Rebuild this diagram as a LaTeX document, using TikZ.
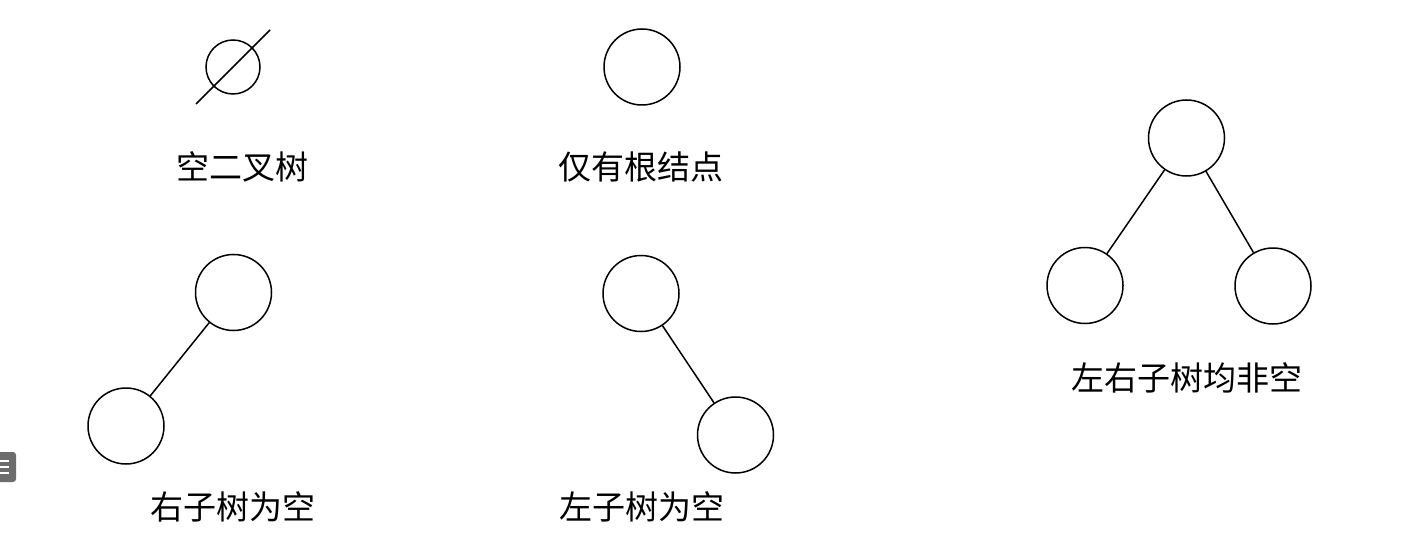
\documentclass[tikz,border=0pt]{standalone}
\usepackage{fontspec}
\newfontfamily\cjk{Noto Sans CJK SC}
\begin{document}
\begin{tikzpicture}[x=1pt,y=-1pt,
  tnode/.style={circle,draw,line width=1.5pt,minimum size=76pt,inner sep=0pt},
  enode/.style={circle,draw,line width=1.5pt,minimum size=54pt,inner sep=0pt},
  edge/.style={line width=1.5pt},
  lbl/.style={font=\cjk\fontsize{33}{36}\selectfont,inner sep=0pt,anchor=center}]
\useasboundingbox (0,0) rectangle (1402,540);
\fill[white] (0,0) rectangle (1402,540);
% empty tree
\node[enode] (e) at (233,67) {};
\coordinate (e1) at (196,104);
\coordinate (e2) at (270,30);
\draw[edge] (e1) -- (e2);
\node[lbl] (l1) at (242,167) {空二叉树};
% only root
\node[tnode] (r) at (642,67) {};
\node[lbl] (l2) at (641,167) {仅有根结点};
% right subtree empty
\node[tnode] (a) at (233.5,292.5) {};
\node[tnode] (b) at (126,426) {};
\draw[edge] (a) -- (b);
\node[lbl] (l3) at (233,507) {右子树为空};
% left subtree empty
\node[tnode] (c) at (641,293.5) {};
\node[tnode] (d) at (735.5,435) {};
\draw[edge] (c) -- (d);
\node[lbl] (l4) at (641.5,507) {左子树为空};
% full
\node[tnode] (f) at (1186.5,138) {};
\node[tnode] (g) at (1085,285.5) {};
\node[tnode] (h) at (1273,286) {};
\draw[edge] (f) -- (g);
\draw[edge] (f) -- (h);
\node[lbl] (l5) at (1187,378) {左右子树均非空};
% side icon
\node[draw=none,fill=gray!85!black,rounded corners=3pt,minimum width=24pt,minimum height=30pt,inner sep=0pt] (ic) at (4,467) {};
\draw[white,line width=1.5pt] (0,461) -- (9,461) (0,467) -- (9,467) (0,473) -- (9,473);
\end{tikzpicture}
\end{document}
